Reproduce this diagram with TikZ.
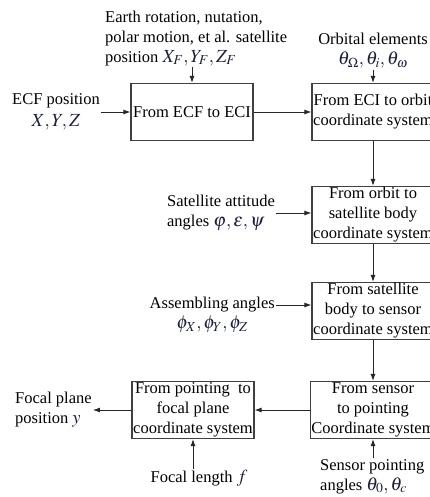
\documentclass[tikz,border=0pt]{standalone}
\usepackage{mathptmx}
\usepackage{fontspec}
\setmainfont{Liberation Serif}
\usepackage{xcolor}
\usepackage{tikz}
\usetikzlibrary{arrows.meta, positioning}
\definecolor{boxgray}{RGB}{64, 64, 64}
\definecolor{mathnavy}{RGB}{28, 32, 64}
\newcommand{\mth}[1]{\textcolor{mathnavy}{\fontsize{18.5}{20}\selectfont$#1$}}

\begin{document}
\begin{tikzpicture}[x=1pt, y=-1pt,
    font=\fontsize{16.5}{20}\selectfont,
    box/.style={draw=boxgray, line width=1.2pt, minimum width=122pt,
                minimum height=57pt, align=center, inner sep=1pt},
    lbl/.style={inner sep=1pt},
    arr/.style={-{Latex[length=7pt, width=5pt]}, line width=0.9pt, draw=black!85}]
    \useasboundingbox (0,0) rectangle (429,497);

    % Transformation boxes
    \node[box] (ecf2eci) at (192,112) {From ECF to ECI};
    \node[box] (eci2orb) at (373,112) {From ECI to orbit\\coordinate system};
    \node[box] (orb2body) at (373,215) {From orbit to\\satellite body\\coordinate system};
    \node[box] (body2sen) at (373,311) {From satellite\\body to sensor\\coordinate system};
    \node[box] (sen2pnt) at (373,410) {From sensor\\to pointing\\Coordinate system};
    \node[box] (pnt2foc) at (193,410) {From pointing\ \ to\\focal plane\\coordinate system};

    % Inputs
    \node[lbl, align=center] (ecfpos) at (56,112) {ECF position\\[2pt]\mth{X,Y,Z}};
    \node[lbl, anchor=south west, align=left] (earth) at (104,67)
        {Earth rotation, nutation,\\polar motion, et al. satellite\\position \mth{X_F,Y_F,Z_F}};
    \node[lbl, align=center] (orbel) at (373,51) {Orbital elements\\\mth{\theta_\Omega,\theta_i,\theta_\omega}};
    \node[lbl, anchor=east, align=left] (att) at (276,213) {Satellite attitude\\angles \mth{\varphi,\varepsilon,\psi}};
    \node[lbl, anchor=east] (asm) at (276,305) {Assembling angles};
    \node[lbl, below=1pt of asm] (asmphi) {\mth{\phi_X,\phi_Y,\phi_Z}};
    \node[lbl, anchor=north west, align=left] (senpt) at (319,458) {Sensor pointing\\angles \mth{\theta_0,\theta_c}};
    \node[lbl] (flen) at (199,478) {Focal length \mth{f}};

    % Output
    \node[lbl, anchor=west, align=left] (focpos) at (14,410) {Focal plane\\position \mth{y}};

    % Connectors
    \draw[arr] (ecfpos.east |- ecf2eci.west) -- (ecf2eci.west);
    \draw[arr] (earth.south -| ecf2eci) -- (ecf2eci.north);
    \draw[arr] (ecf2eci) -- (eci2orb);
    \draw[arr] (orbel) -- (eci2orb);
    \draw[arr] (eci2orb) -- (orb2body);
    \draw[arr] (att.east) -- (att.east -| orb2body.west);
    \draw[arr] (orb2body) -- (body2sen);
    \draw[arr] (asm.east) -- (asm.east -| body2sen.west);
    \draw[arr] (body2sen) -- (sen2pnt);
    \draw[arr] (senpt.north -| sen2pnt) -- (sen2pnt.south);
    \draw[arr] (sen2pnt) -- (pnt2foc);
    \draw[arr] (flen.north -| pnt2foc) -- (pnt2foc.south);
    \draw[arr] (pnt2foc.west) -- (pnt2foc.west -| focpos.east);
\end{tikzpicture}
\end{document}
